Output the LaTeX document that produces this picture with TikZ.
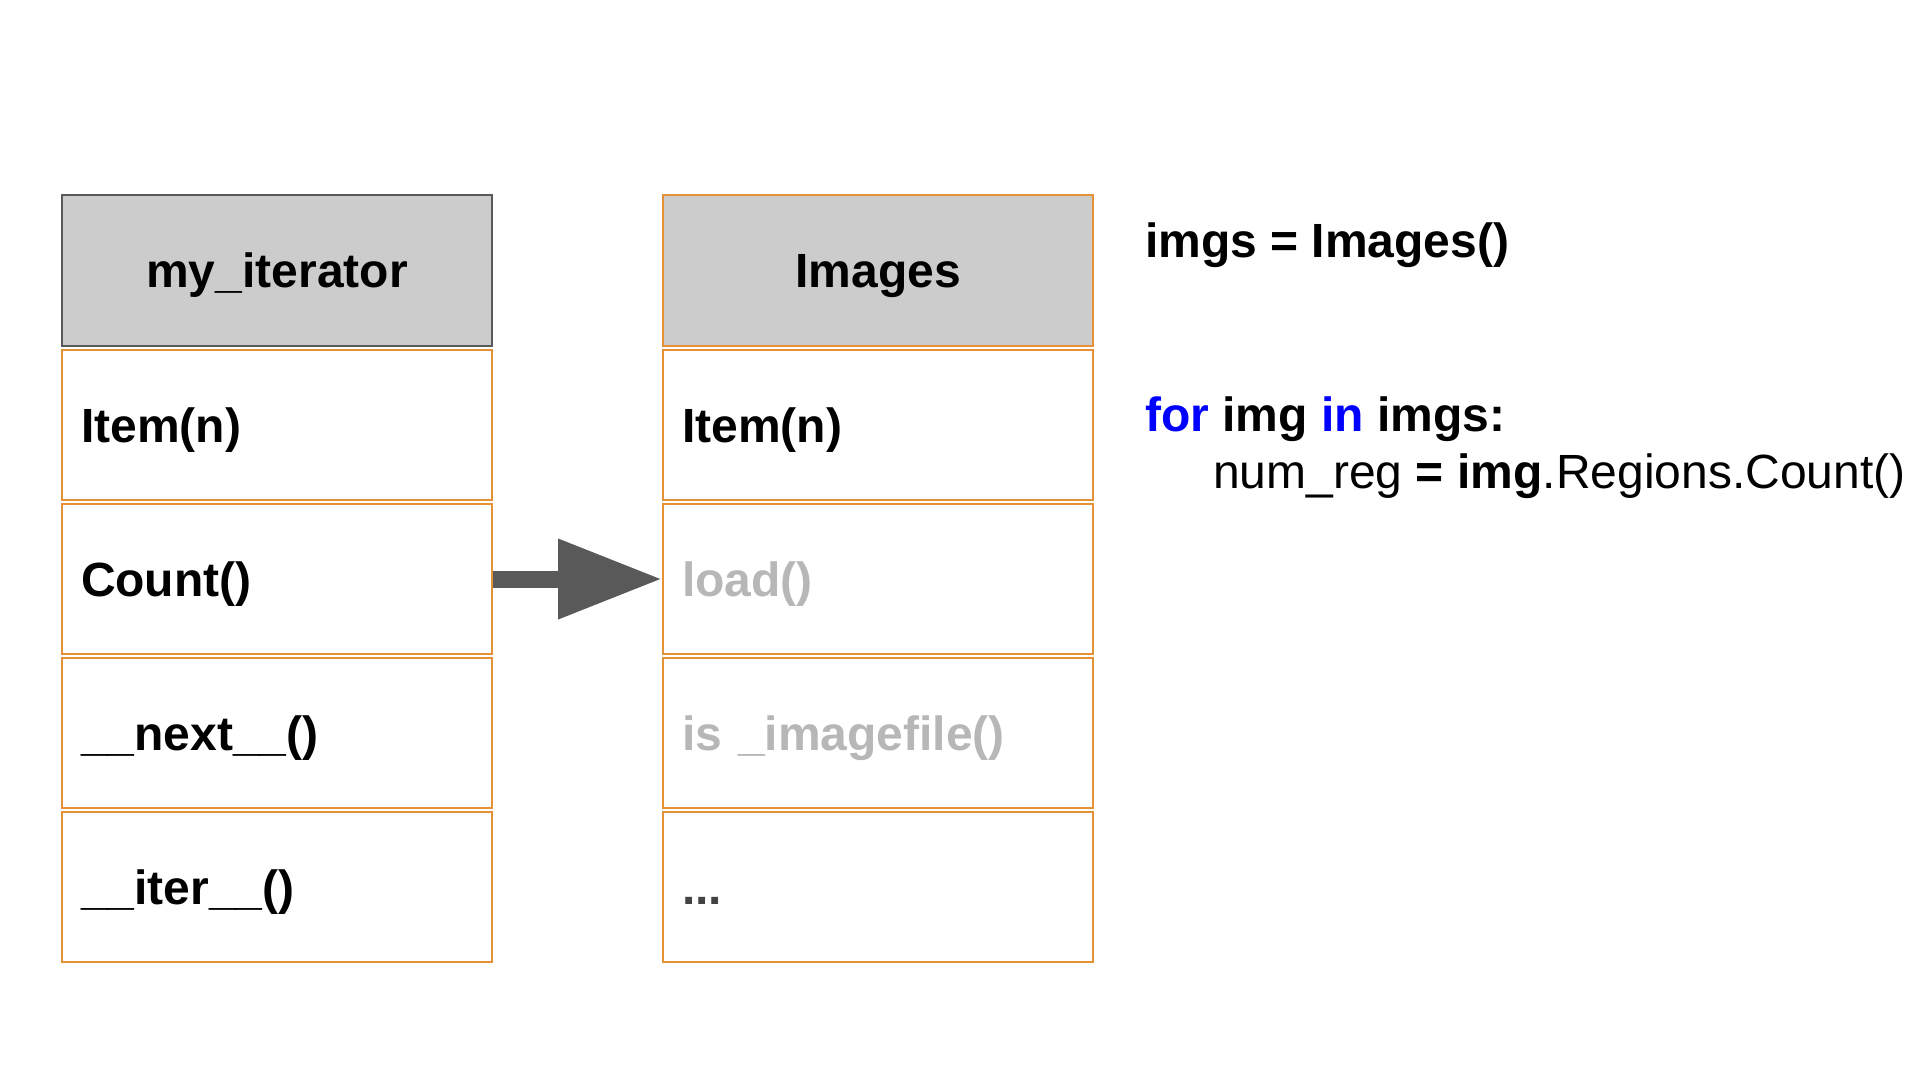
\documentclass[tikz,border=0pt]{standalone}
\usepackage{fontspec}
\setmainfont{Liberation Sans}
\usetikzlibrary{arrows.meta}
\definecolor{orangeline}{HTML}{E69138}
\definecolor{headfill}{HTML}{CCCCCC}
\definecolor{darkline}{HTML}{595959}
\definecolor{greytext}{HTML}{B7B7B7}
\definecolor{dotstext}{HTML}{434343}
\definecolor{kwblue}{HTML}{0000FF}
\begin{document}
\begin{tikzpicture}[x=1pt,y=-1pt,
  big/.style={font=\fontsize{48}{57}\selectfont},
  cell/.style={big,draw=orangeline,line width=2pt,anchor=north west,
    minimum height=150pt,text width=392pt,inner xsep=19pt,inner ysep=0pt,
    align=left,text height=34.4pt,text depth=0pt,font=\fontsize{48}{57}\selectfont\bfseries},
  headcell/.style={cell,fill=headfill,minimum height=151pt,align=center},
  codeline/.style={big,anchor=base west,inner sep=0pt}]
\useasboundingbox (0,0) rectangle (1920,1080);
% left class
\node[headcell,draw=darkline] (lh) at (61,194) {my\_iterator};
\node[cell] (l1) at (61,349) {Item(n)};
\node[cell] (l2) at (61,503) {Count()};
\node[cell] (l3) at (61,657) {\_\_next\_\_()};
\node[cell] (l4) at (61,811) {\_\_iter\_\_()};
% right class
\node[headcell] (rh) at (662,194) {Images};
\node[cell] (r1) at (662,349) {Item(n)};
\node[cell,text=greytext] (r2) at (662,503) {load()};
\node[cell,text=greytext] (r3) at (662,657) {is \_imagefile()};
\node[cell,text=dotstext] (r4) at (662,811) {...};
% arrow
\draw[darkline,line width=17pt,-{Triangle[length=104pt,width=76pt]}] (l2.east) -- (r2.west);
% code
\node[codeline,font=\fontsize{48}{57}\selectfont\bfseries] (c1) at (1145,257) {imgs = Images()};
\node[codeline,font=\fontsize{48}{57}\selectfont\bfseries] (c2) at (1145,431) {\textcolor{kwblue}{for} img \textcolor{kwblue}{in} imgs:};
\node[codeline] (c3) at (1213,488) {num\_reg \textbf{= img}.Regions.Count()};
\end{tikzpicture}
\end{document}
